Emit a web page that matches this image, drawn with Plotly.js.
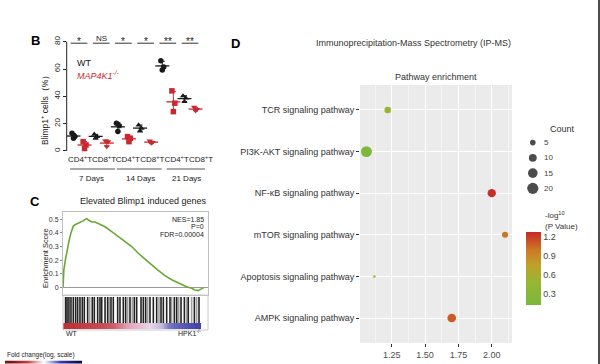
<!DOCTYPE html>
<html><head><meta charset="utf-8">
<script src="https://cdn.plot.ly/plotly-3.0.1.min.js"></script>
<style>html,body{margin:0;padding:0;background:#fff;overflow:hidden}#chart{width:600px;height:364px}</style>
</head><body><div id="chart"></div>
<script>
// ---------- Panel B data ----------
const bGroups = ['CD4+T 7d','CD8+T 7d','CD4+T 14d','CD8+T 14d','CD4+T 21d','CD8+T 21d'];
const bTickLabels = ['CD4<sup>+</sup>T','CD8<sup>+</sup>T','CD4<sup>+</sup>T','CD8<sup>+</sup>T','CD4<sup>+</sup>T','CD8<sup>+</sup>T'];
const bDays = ['7 Days','14 Days','21 Days'];
const wtValues = [[13,10.5,9.3],[12.2,10.5,9.3],[20.3,18.5,14.2],[19,16.6,14.6],[66,61.5,59.3],[40.3,38.6,36.1]];
const koValues = [[6.8,4.4,1.8],[7.3,6.8,3.2],[10.5,9.3,6.8],[7.3,6.3,5.8],[44,35,28.8],[32,30.5,29.5]];
const bSig = ['*','NS','*','*','**','**'];
const bTicks = [0,20,40,60,80];

// ---------- Panel C data ----------
const esRank  = [0,0.6,1.8,3.2,4.1,5.5,7.1,8.3,10.6,12.9,14.2,15.2,16.3,17.5,19.8,22.1,24.4,29,33.6,38.2,42.8,47.4,51.9,56.6,61.2,65.7,70.3,75,79.5,84.1,86.4,88.7,91,93.3,95.7,97];
const esScore = [0,0.13,0.21,0.30,0.34,0.40,0.45,0.46,0.47,0.485,0.49,0.50,0.505,0.495,0.48,0.48,0.47,0.445,0.41,0.375,0.34,0.30,0.25,0.21,0.165,0.125,0.085,0.055,0.03,0.01,0,-0.007,-0.02,-0.025,-0.01,-0.005];
const esTicks = [0,0.1,0.2,0.3,0.4,0.5];
const hitRanks = [1.8,2.8,4.1,5.5,7.1,8.7,10.1,11.7,13.3,14.7,17,20.2,21.6,23.9,25.5,26.7,29,30.8,33.1,34.7,37.7,39.3,41.6,43.2,46.2,49.2,50.8,53.8,55.4,57,60,62.3,64.6,67.6,69.2,71.5,73.8,76.8,78.4,81.4,83.7,86.4,90.6,93.8];
const weakHitRanks = [18.4,31.9,44.6,47.8,58.4,66.2,74.9,79.8,85.3,88.7,92.2];
const rankBinEdges = [0,8,16,24,32,40,48,56,64,72,80,88,95];
const rankMetric = [2.2,2.0,1.8,1.6,1.2,0.6,0.3,0.0,-0.3,-1.2,-1.6,-2.0];
const foldChangeScale = [3,2,1,0,-1,-2,-3];
const gseaStats = ['NES=1.85','P=0','FDR=0.00004'];

// ---------- Panel D data ----------
const pathways = ['TCR signaling pathway','PI3K-AKT signaling pathway','NF-κB signaling pathway','mTOR signaling pathway','Apoptosis signaling pathway','AMPK signaling pathway'];
const enrichment = [1.22,1.06,2.00,2.10,1.12,1.70];
const counts = [7,19,11,6,1,12];
const negLogP = [0.45,0.18,1.25,1.0,0.55,1.1];
const countLegend = [5,10,15,20];
const dTicks = [1.25,1.5,1.75,2.0];
const dTickText = ['1.25','1.50','1.75','2.00'];
const cbTicks = [0.3,0.6,0.9,1.2];

// ---------- helpers ----------
const W=600,H=364;
const PX = v => v/W, PY = v => 1 - v/H;
const FONT = 'Liberation Sans, Arial, sans-serif';
const BLACK = '#1a1a1a', RED = '#c8282e';
const sizeOf = c => 2.5*Math.sqrt(c);
const mean = a => a.reduce((s,v)=>s+v,0)/a.length;
const sd = a => { const m=mean(a); return Math.sqrt(a.reduce((s,v)=>s+(v-m)*(v-m),0)/(a.length-1)); };
const jitter = [-0.13,0.13,0];

const traces = [];
function groupTrace(vals, groupIdxs, offset, symbol, color){
  const xs=[], ys=[];
  groupIdxs.forEach(g => vals[g].forEach((v,i)=>{ xs.push(2*g+offset+jitter[i]); ys.push(v); }));
  return {type:'scatter',mode:'markers',x:xs,y:ys,xaxis:'x',yaxis:'y',
    marker:{symbol:symbol,size:5.5,color:color,line:{width:0}},hoverinfo:'skip',showlegend:false,cliponaxis:false};
}
function meanTrace(vals, offset, color){
  const xs = vals.map((v,g)=>2*g+offset);
  return {type:'scatter',mode:'markers',x:xs,y:vals.map(mean),xaxis:'x',yaxis:'y',
    marker:{symbol:'line-ew-open',size:10,color:color,line:{width:1.3,color:color}},
    error_y:{type:'data',array:vals.map(sd),width:2.5,thickness:1,color:color},
    hoverinfo:'skip',showlegend:false,cliponaxis:false};
}
traces.push(meanTrace(wtValues,0,BLACK));
traces.push(meanTrace(koValues,1,RED));
traces.push(groupTrace(wtValues,[0,2,4],0,'circle',BLACK));
traces.push(groupTrace(wtValues,[1,3,5],0,'triangle-up',BLACK));
traces.push(groupTrace(koValues,[0,2,4],1,'square',RED));
traces.push(groupTrace(koValues,[1,3,5],1,'triangle-down',RED));

// Panel C
traces.push({type:'scatter',mode:'lines',x:esRank,y:esScore,xaxis:'x2',yaxis:'y2',
  line:{color:'#6aa836',width:1.6},hoverinfo:'skip',showlegend:false});
traces.push({type:'bar',x:weakHitRanks,y:weakHitRanks.map(()=>1),width:1.1,xaxis:'x3',yaxis:'y3',
  marker:{color:'#a0a0a0',line:{width:0}},hoverinfo:'skip',showlegend:false});
traces.push({type:'bar',x:hitRanks,y:hitRanks.map(()=>1),width:1.1,xaxis:'x3',yaxis:'y3',
  marker:{color:'#222',line:{width:0}},hoverinfo:'skip',showlegend:false});
traces.push({type:'heatmap',x:rankBinEdges,y:[0,1],z:[rankMetric],xaxis:'x4',yaxis:'y4',zsmooth:'best',
  colorscale:[[0,'#3a3aa8'],[0.3,'#7a78c4'],[0.5,'#e6d6ea'],[0.62,'#e4a6bc'],[0.8,'#cc5a66'],[1,'#c03038']],
  zmin:-2.2,zmax:2.2,showscale:false,hoverinfo:'skip'});
traces.push({type:'heatmap',z:[foldChangeScale],xaxis:'x5',yaxis:'y5',zsmooth:'best',
  colorscale:[[0,'#101048'],[0.25,'#3b3bb0'],[0.5,'#ffffff'],[0.75,'#c04040'],[1,'#7a1414']],
  zmin:-3,zmax:3,showscale:false,hoverinfo:'skip'});

// Panel D
const CS = [[0,'#78b83c'],[0.3,'#96b634'],[0.55,'#c0a02a'],[0.75,'#cc7a26'],[1,'#c62828']];
traces.push({type:'scatter',mode:'markers',x:enrichment,y:pathways,xaxis:'x6',yaxis:'y6',
  marker:{size:counts.map(sizeOf),color:negLogP,colorscale:CS,cmin:0.12,cmax:1.28,line:{width:0},opacity:1,
    colorbar:{x:PX(526),xanchor:'left',xpad:0,ypad:0,y:PY(268.3),yanchor:'middle',thickness:15,
      lenmode:'pixels',len:73,outlinewidth:0,tickvals:cbTicks,ticktext:cbTicks.map(v=>v.toFixed(1)),
      ticks:'',tickfont:{size:9,color:'#444',family:FONT}}},
  hoverinfo:'skip',showlegend:false,cliponaxis:false});
traces.push({type:'scatter',mode:'markers',x:countLegend.map(()=>0.3),y:countLegend.map((c,i)=>i),xaxis:'x7',yaxis:'y7',
  marker:{size:countLegend.map(sizeOf),color:'#000',line:{width:0}},hoverinfo:'skip',showlegend:false,cliponaxis:false});

// ---------- annotations ----------
const A = [];
function ann(text,x,y,o){ A.push(Object.assign({text:text,x:PX(x),y:PY(y),xref:'paper',yref:'paper',showarrow:false,
  xanchor:'center',yanchor:'middle',font:{family:FONT,size:9,color:'#222'}},o||{})); }
ann('<b>B</b>',35,40,{font:{family:FONT,size:13,color:'#000'}});
ann('<b>C</b>',35,201,{font:{family:FONT,size:13,color:'#000'}});
ann('<b>D</b>',235,43,{font:{family:FONT,size:13,color:'#000'}});
ann('WT',75,62.5,{xanchor:'left',font:{family:FONT,size:9,color:'#111'}});
ann('<i>MAP4K1<sup>-/-</sup></i>',75,75,{xanchor:'left',font:{family:FONT,size:9,color:RED}});
ann('Blimp1<sup>+</sup> cells（%）',44,108,{textangle:-90,font:{family:FONT,size:8.5,color:'#222'}});
bSig.forEach((s,g)=>{
  A.push({text:s,x:2*g+0.5,y:(s==='NS'?82.2:80.3),xref:'x',yref:'y',showarrow:false,xanchor:'center',yanchor:'middle',
    font:{family:FONT,size:(s==='NS'?8:10),color:'#222'}});
});
const dayCenters=[1.6,6,10.2];
bDays.forEach((d,i)=>A.push({text:d,x:dayCenters[i],y:PY(178.5),xref:'x',yref:'paper',showarrow:false,
  xanchor:'center',yanchor:'middle',font:{family:FONT,size:8,color:'#222'}}));
ann('Elevated Blimp1 induced genes',143,201,{font:{family:FONT,size:9,color:'#222'}});
ann('Enrichment Score',45,258,{textangle:-90,font:{family:FONT,size:7.5,color:'#222'}});
const statY=[219,226.5,234];
gseaStats.forEach((t,i)=>ann(t,206,statY[i],{xanchor:'right',font:{family:FONT,size:7,color:'#222'}}));
ann('WT',72,333,{font:{family:FONT,size:7,color:'#222'}});
ann('HPK1<sup>-/-</sup>',189,333,{font:{family:FONT,size:7,color:'#222'}});
ann('Fold change(log, scale)',5,355,{xanchor:'left',font:{family:FONT,size:6.5,color:'#222'}});
ann('Immunoprecipitation-Mass Spectrometry (IP-MS)',414,43,{font:{family:FONT,size:9,color:'#333'}});
ann('Pathway enrichment',436,77,{font:{family:FONT,size:9,color:'#333'}});
ann('Count',548,128.5,{xanchor:'left',font:{family:FONT,size:9,color:'#333'}});
countLegend.forEach((c,i)=>A.push({text:String(c),x:0.55,y:i,xref:'x7',yref:'y7',showarrow:false,xanchor:'left',yanchor:'middle',
  font:{family:FONT,size:8,color:'#444'}}));
ann('-log<sup>10</sup><br>(P Value)',543,220,{xanchor:'left',align:'left',font:{family:FONT,size:8,color:'#333'}});

// ---------- shapes ----------
const S = [];
S.push({type:'rect',xref:'x6 domain',yref:'y6 domain',x0:0,x1:1,y0:0,y1:1,fillcolor:'#ebebeb',line:{width:0},layer:'below'});
S.push({type:'line',xref:'x domain',yref:'y',x0:0,x1:0,y0:0,y1:80,line:{color:'#222',width:1}});
bSig.forEach((s,g)=>S.push({type:'line',xref:'x',yref:'y',x0:2*g+0.5-0.75,x1:2*g+0.5+0.75,y0:78.9,y1:78.9,line:{color:'#333',width:1}}));
const daySpans=[[-0.3,3.75],[3.9,7.95],[8.4,11.85]];
daySpans.forEach(s=>S.push({type:'line',xref:'x',yref:'paper',x0:s[0],x1:s[1],y0:PY(169),y1:PY(169),line:{color:'#555',width:1}}));
S.push({type:'rect',xref:'paper',yref:'paper',x0:PX(63),x1:PX(208),y0:PY(330),y1:PY(295),line:{color:'#c8c8c8',width:1}});
S.push({type:'line',xref:'paper',yref:'paper',x0:PX(599),x1:PX(599),y0:0,y1:1,line:{color:'#111',width:1.5}});

const hidden = {visible:false,fixedrange:true};
const layout = {
  width:W,height:H,margin:{l:0,r:0,t:0,b:0},paper_bgcolor:'#fff',plot_bgcolor:'rgba(0,0,0,0)',
  font:{family:FONT,size:9,color:'#222'},showlegend:false,
  xaxis:{domain:[PX(66.7),PX(205)],range:[-0.61,11.85],anchor:'y',showgrid:false,zeroline:false,showline:false,
    tickvals:[0.6,2.75,4.9,7.1,9.3,11.5],ticktext:bTickLabels,ticks:'',tickangle:0,tickfont:{size:8,color:'#222'}},
  yaxis:{domain:[PY(153),PY(33.5)],range:[-1.5,86],anchor:'x',showgrid:false,zeroline:false,showline:false,
    tickvals:bTicks,ticks:'outside',ticklen:3,tickcolor:'#222',tickangle:-90,tickfont:{size:8,color:'#222'}},
  xaxis2:{domain:[PX(63),PX(208)],range:[0,100],anchor:'y2',showgrid:false,zeroline:false,showticklabels:false,
    showline:true,mirror:true,linecolor:'#c0c0c0',linewidth:1,ticks:''},
  yaxis2:{domain:[PY(295),PY(211.7)],range:[-0.057,0.556],anchor:'x2',showgrid:false,zeroline:true,zerolinecolor:'#9a9a9a',zerolinewidth:1,
    showline:true,mirror:true,linecolor:'#c0c0c0',linewidth:1,tickvals:esTicks,ticktext:esTicks.map(String),
    ticks:'outside',ticklen:2,tickcolor:'#888',tickfont:{size:7,color:'#333'}},
  xaxis3:Object.assign({domain:[PX(63),PX(208)],range:[0,100],anchor:'y3'},hidden),
  yaxis3:Object.assign({domain:[PY(323),PY(297)],range:[0,1],anchor:'x3'},hidden),
  xaxis4:Object.assign({domain:[PX(63),PX(208)],range:[0,100],anchor:'y4'},hidden),
  yaxis4:Object.assign({domain:[PY(329.3),PY(323)],range:[0,1],anchor:'x4'},hidden),
  xaxis5:Object.assign({domain:[PX(5),PX(82)],range:[-0.5,6.5],anchor:'y5'},hidden),
  yaxis5:Object.assign({domain:[0,PY(360.5)],range:[-0.5,0.5],anchor:'x5'},hidden),
  xaxis6:{domain:[PX(360),PX(512)],range:[1.012,2.152],anchor:'y6',showgrid:true,gridcolor:'#fff',gridwidth:1,zeroline:false,
    showline:false,tickvals:dTicks,ticktext:dTickText,ticks:'outside',ticklen:3,tickcolor:'#333',tickfont:{size:9,color:'#4d4d4d'},
    minor:{tickvals:[1.125,1.375,1.625,1.875,2.125],showgrid:true,gridcolor:'#fff',gridwidth:0.5,ticks:''}},
  yaxis6:{domain:[PY(343),PY(85)],type:'category',categoryorder:'array',categoryarray:pathways.slice().reverse(),
    range:[-0.6,5.6],anchor:'x6',showgrid:true,gridcolor:'#fff',gridwidth:1,zeroline:false,showline:false,
    ticks:'outside',ticklen:3,tickcolor:'#333',tickfont:{size:9,color:'#333'}},
  xaxis7:Object.assign({domain:[PX(522),PX(558)],range:[0,1],anchor:'y7'},hidden),
  yaxis7:Object.assign({domain:[PY(196),PY(135)],range:[3.5,-0.5],anchor:'x7'},hidden),
  annotations:A,shapes:S
};
Plotly.newPlot('chart',traces,layout,{staticPlot:true,displayModeBar:false});
</script></body></html>
